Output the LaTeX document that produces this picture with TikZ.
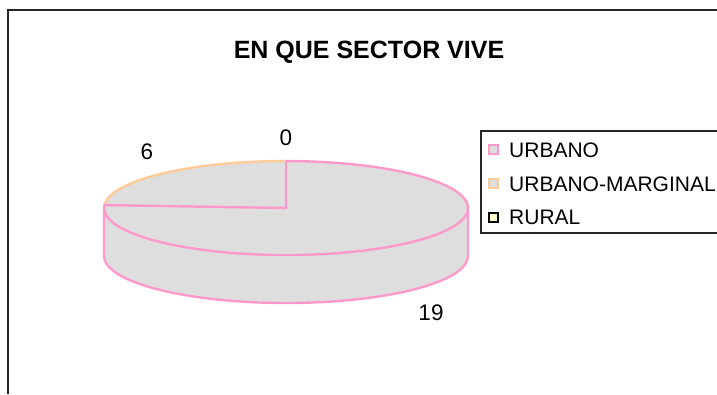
\documentclass[tikz,border=0pt]{standalone}
\usepackage{fontspec}
\setmainfont{Liberation Sans}
\definecolor{urb}{HTML}{FF99CC}
\definecolor{marg}{HTML}{FFCC99}
\definecolor{rur}{HTML}{FFFFCC}
\definecolor{piefill}{HTML}{DEDEDE}
\begin{document}
\begin{tikzpicture}[x=1pt,y=1pt,
  lbl/.style={font=\fontsize{22.5}{22.5}\selectfont, inner sep=0pt},
  legtxt/.style={font=\fontsize{21}{21}\selectfont, anchor=west, inner sep=0pt},
  legsq/.style={minimum size=9pt, inner sep=0pt, line width=2pt},
  pieline/.style={line width=2.4pt, line join=round}]
\useasboundingbox (0,0) rectangle (717,394);
\fill[white] (0,0) rectangle (717,394);
\clip (0,0) rectangle (717,394);
% frame
\draw[line width=1.3pt, black!85] (8,0) -- (8,384) -- (730,384);
% title
\node[font=\bfseries\fontsize{25}{25}\selectfont] (title) at (369,342) {EN QUE SECTOR VIVE};
% side wall
\fill[piefill] (104,186) -- (104,138) arc[start angle=180, end angle=360, x radius=182, y radius=47] -- (468,186) arc[start angle=0, end angle=-180, x radius=182, y radius=47] -- cycle;
\draw[urb, pieline] (104,186) -- (104,138) arc[start angle=180, end angle=360, x radius=182, y radius=47] -- (468,186);
% top face
\fill[piefill] (286,186) ellipse[x radius=182, y radius=47];
\draw[marg, pieline] (286,233) arc[start angle=90, end angle=176.4, x radius=182, y radius=47];
\draw[urb, pieline] (286,233) -- (286,186) -- (104.4,188.9) arc[start angle=176.4, end angle=450, x radius=182, y radius=47];
% data labels
\node[lbl] (v0) at (286,256) {0};
\node[lbl] (v6) at (147,242) {6};
\node[lbl] (v19) at (431,81) {19};
% legend
\draw[line width=1.1pt, black!85] (481,263) rectangle (740,161);
\node[legsq, draw=urb, fill=piefill] (s1) at (493,244) {};
\node[legsq, draw=marg, fill=piefill] (s2) at (493,210) {};
\node[legsq, draw=black, fill=rur] (s3) at (493,177) {};
\node[legtxt] (t1) at (509,244) {URBANO};
\node[legtxt] (t2) at (509,210) {URBANO-MARGINAL};
\node[legtxt] (t3) at (509,177) {RURAL};
\end{tikzpicture}
\end{document}
